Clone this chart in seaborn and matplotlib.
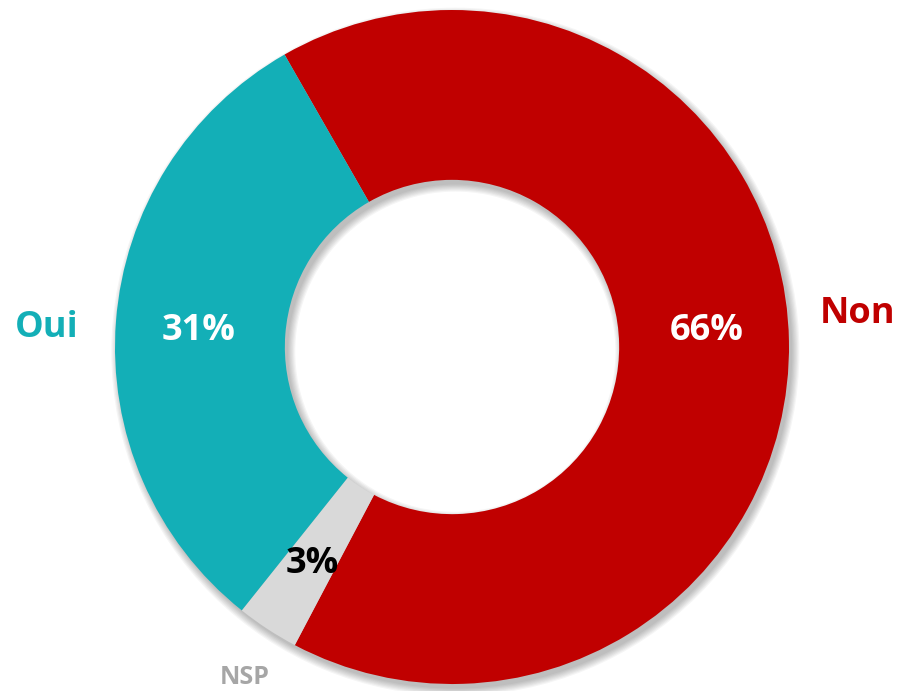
import matplotlib
matplotlib.use("Agg")
import matplotlib.pyplot as plt
from matplotlib.patches import Wedge
import seaborn as sns
import numpy as np

# Data
categories = ["Non", "NSP", "Oui"]
values = [66, 3, 31]
pct_labels = ["66%", "3%", "31%"]
colors = ["#C00000", "#D9D9D9", "#13AFB7"]
label_colors = ["#C00000", "#A6A6A6", "#13AFB7"]
pct_colors = ["white", "black", "white"]

sns.set_theme(style="white")
plt.rcParams['font.family'] = ['Open Sans', 'DejaVu Sans']

W, H = 899, 691
fig = plt.figure(figsize=(W / 100, H / 100), dpi=100)
ax = fig.add_axes([0, 0, 1, 1])
cx, cy, R = 452, 347, 337  # pixel geometry

inner = 0.496
width = 1 - inner

# soft drop shadow
for i in range(7):
    sh = Wedge((0.010, -0.014), 1.0 + 0.0035 * i, 0, 360,
               width=width + 0.007 * i, facecolor="black", edgecolor="none",
               alpha=0.04, zorder=0)
    ax.add_patch(sh)

wedges, _ = ax.pie(values, colors=colors, startangle=119.8, counterclock=False,
                   radius=1.0, wedgeprops=dict(width=width, edgecolor="none"),
                   center=(0, 0), frame=True)
ax.set_xlim(-cx / R, (W - cx) / R)
ax.set_ylim(-(H - cy) / R, cy / R)
ax.set_aspect('auto')
ax.axis('off')

dy_text = -4 / R  # vertical nudge for text centring

def px(x, y):
    return (x - cx) / R, (cy - y) / R

# percentage labels at mid angles
pct_r = 0.755
for w, t, c in zip(wedges, pct_labels, pct_colors):
    mid = np.deg2rad((w.theta1 + w.theta2) / 2)
    x, y = pct_r * np.cos(mid), pct_r * np.sin(mid) + dy_text
    if t == "66%":
        y += 0.045
    ax.text(x, y, t, ha="center", va="center", fontsize=26,
            fontweight="bold", color=c, zorder=5)

# category labels
cat_pos = {"Non": (858, 310), "NSP": (245, 674), "Oui": (47, 324)}
cat_size = {"Non": 26, "NSP": 18, "Oui": 26}
for cat, lc in zip(categories, label_colors):
    x, y = px(*cat_pos[cat])
    ax.text(x, y + dy_text, cat, ha="center", va="center", fontsize=cat_size[cat],
            fontweight="bold", color=lc, zorder=5)

fig.savefig("out.png", dpi=100)
